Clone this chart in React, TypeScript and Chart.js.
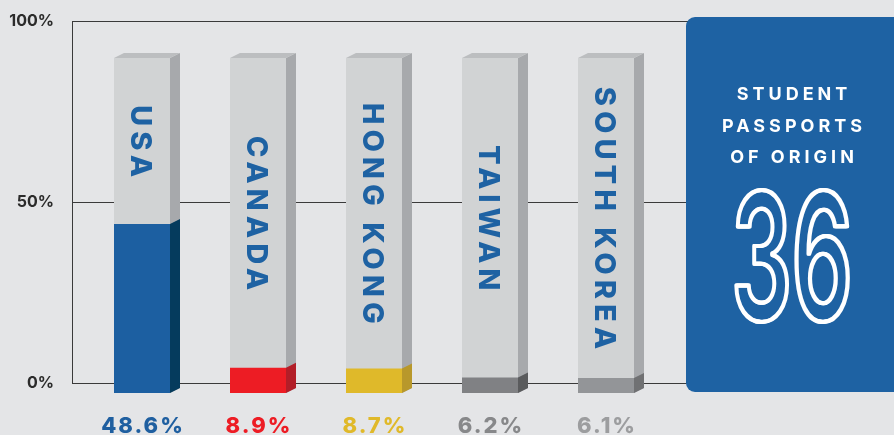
import React, { useEffect, useRef } from 'react';
import { Chart, registerables } from 'chart.js';

Chart.register(...registerables);

// ---- data ----
const categories = ['USA', 'CANADA', 'HONG KONG', 'TAIWAN', 'SOUTH KOREA'];
const shares = [48.6, 8.9, 8.7, 6.2, 6.1];
const shareLabels = ['48.6%', '8.9%', '8.7%', '6.2%', '6.1%'];
const yTicks = [0, 50, 100];
const trackLevel = 94.5;
const panelTitle = ['STUDENT', 'PASSPORTS', 'OF ORIGIN'];
const panelNumber = '36';

// ---- styles ----
const BG = '#e4e5e7';
const BLUE = '#1e62a3';
const fillColors = ['#1c5fa1', '#ed1c24', '#dfb92a', '#808184', '#939598'];
const sideColors = ['#053b5d', '#b21e28', '#b8982b', '#5a5b5d', '#707173'];
const labelColors = ['#1f5fa0', '#ed1c24', '#e0b92a', '#87888a', '#9c9d9f'];
const TRACK_FRONT = '#d1d3d4';
const TRACK_SIDE = '#a7a9ac';
const TRACK_TOP = '#bcbec0';
const FONT = 'Inter, "DejaVu Sans", sans-serif';

const Y_MIN = -2.76;
const FILL_SHIFT = 4.7;
const FILL_MIN = Y_MIN + FILL_SHIFT;
const DX = 10;
const DY = 5;

const threeD = {
  id: 'threeD',
  beforeDraw(chart: any) {
    const { ctx, width, height } = chart;
    ctx.save();
    ctx.fillStyle = BG;
    ctx.fillRect(0, 0, width, height);
    ctx.restore();
  },
  beforeDatasetsDraw(chart: any) {
    const { ctx, chartArea } = chart;
    const y = chart.scales.y;
    ctx.save();
    ctx.strokeStyle = '#3a3a3a';
    ctx.lineWidth = 1;
    ctx.beginPath();
    const x = Math.round(chartArea.left) + 0.5;
    ctx.moveTo(x, Math.round(y.getPixelForValue(100)) + 0.5);
    ctx.lineTo(x, Math.round(y.getPixelForValue(0)) + 0.5);
    ctx.stroke();
    ctx.restore();
  },
  afterDatasetDraw(chart: any, args: any) {
    const { ctx } = chart;
    const isTrack = args.index === 1;
    ctx.save();
    args.meta.data.forEach((el: any, i: number) => {
      const { x, y, base, width } = el.getProps(['x', 'y', 'base', 'width'], true);
      const left = x - width / 2;
      const right = x + width / 2;
      ctx.beginPath();
      ctx.moveTo(right, y);
      ctx.lineTo(right + DX, y - DY);
      ctx.lineTo(right + DX, base - DY);
      ctx.lineTo(right, base);
      ctx.closePath();
      ctx.fillStyle = isTrack ? TRACK_SIDE : sideColors[i];
      ctx.fill();
      if (isTrack) {
        ctx.beginPath();
        ctx.moveTo(left, y);
        ctx.lineTo(left + DX, y - DY);
        ctx.lineTo(right + DX, y - DY);
        ctx.lineTo(right, y);
        ctx.closePath();
        ctx.fillStyle = TRACK_TOP;
        ctx.fill();
      }
    });
    ctx.restore();
  },
  afterDatasetsDraw(chart: any) {
    const { ctx, chartArea } = chart;
    const fills = chart.getDatasetMeta(0).data;
    const tracks = chart.getDatasetMeta(1).data;
    ctx.save();
    // rotated category labels
    ctx.font = `800 29px ${FONT}`;
    (ctx as any).letterSpacing = '5px';
    ctx.fillStyle = BLUE;
    ctx.textAlign = 'center';
    ctx.textBaseline = 'alphabetic';
    categories.forEach((c, i) => {
      const t = tracks[i].getProps(['x', 'y'], true);
      const f = fills[i].getProps(['y'], true);
      const cy = (t.y + f.y) / 2;
      ctx.save();
      ctx.translate(t.x, cy);
      ctx.rotate(Math.PI / 2);
      ctx.fillText(c, 2.5, 11);
      ctx.restore();
    });
    // value labels
    ctx.font = `800 22px ${FONT}`;
    (ctx as any).letterSpacing = '2px';
    shareLabels.forEach((s, i) => {
      const t = tracks[i].getProps(['x'], true);
      ctx.fillStyle = labelColors[i];
      ctx.fillText(s, t.x + 1, chartArea.bottom + 40);
    });
    ctx.restore();
  },
  afterDraw(chart: any) {
    const { ctx } = chart;
    ctx.save();
    ctx.fillStyle = BLUE;
    ctx.beginPath();
    (ctx as any).roundRect(686, 17, 240, 375, 9);
    ctx.fill();
    ctx.fillStyle = '#ffffff';
    ctx.textAlign = 'center';
    ctx.textBaseline = 'alphabetic';
    ctx.font = `700 18px ${FONT}`;
    (ctx as any).letterSpacing = '4px';
    const cx = 792;
    const baselines = [100, 132, 163];
    panelTitle.forEach((t, i) => ctx.fillText(t, cx + 2, baselines[i]));
    (ctx as any).letterSpacing = '0px';
    ctx.save();
    ctx.translate(cx, 320);
    ctx.scale(0.54, 1);
    ctx.font = `600 176px ${FONT}`;
    ctx.strokeStyle = '#ffffff';
    ctx.lineWidth = 4;
    ctx.lineJoin = 'round';
    [-1.8, 0, 1.8].forEach((d) => ctx.strokeText(panelNumber, d, 0));
    ctx.restore();
    ctx.restore();
  },
};

export default function App() {
  const ref = useRef<HTMLCanvasElement>(null);
  useEffect(() => {
    document.body.style.margin = '0';
    document.body.style.background = BG;
    const chart = new Chart(ref.current as HTMLCanvasElement, {
      type: 'bar',
      data: {
        datasets: [
          {
            label: 'Share',
            data: shares.map((v, i) => ({ x: i, y: v })),
            backgroundColor: fillColors,
            yAxisID: 'yFill',
            grouped: false,
            maxBarThickness: 56,
            base: FILL_MIN,
          } as any,
          {
            label: 'Track',
            data: categories.map((_, i) => ({ x: i, y: trackLevel })),
            backgroundColor: TRACK_FRONT,
            yAxisID: 'yFill',
            grouped: false,
            maxBarThickness: 56,
            base: FILL_MIN,
          } as any,
        ],
      },
      options: {
        responsive: false,
        animation: false,
        events: [],
        layout: { autoPadding: false, padding: { top: 21, bottom: 42, left: 0, right: 0 } },
        plugins: { legend: { display: false }, tooltip: { enabled: false } },
        scales: {
          x: {
            type: 'linear',
            display: false,
            offset: false,
            min: -70 / 116,
            max: -70 / 116 + 822 / 116,
          },
          y: {
            position: 'left',
            min: Y_MIN,
            max: 100,
            afterBuildTicks: (s: any) => {
              s.ticks = yTicks.map((v) => ({ value: v }));
            },
            afterFit: (s: any) => {
              s.width = 72;
              s.paddingTop = 0;
              s.paddingBottom = 0;
            },
            border: { display: false },
            grid: { color: '#3a3a3a', lineWidth: 1, drawTicks: false },
            ticks: {
              padding: 18,
              color: '#2b2b2b',
              font: { family: FONT, size: 16, weight: '700' },
              callback: (v: any) => `${v}%`,
            },
          },
          yFill: {
            display: false,
            min: FILL_MIN,
            max: 100 + FILL_SHIFT,
          },
        },
      } as any,
      plugins: [threeD],
    });
    return () => chart.destroy();
  }, []);
  return (
    <div style={{ position: 'fixed', left: 0, top: 0, width: 894, height: 435 }}>
      <canvas ref={ref} width={894} height={435} style={{ display: 'block', width: 894, height: 435 }} />
    </div>
  );
}
